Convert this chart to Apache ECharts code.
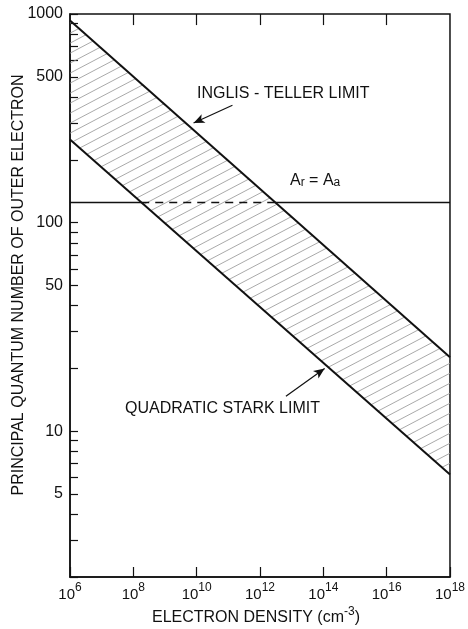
<!DOCTYPE html>
<html><head><meta charset="utf-8">
<script src="https://cdn.jsdelivr.net/npm/echarts@6/dist/echarts.min.js"></script>
<style>html,body{margin:0;padding:0;background:#fff}#c{width:468px;height:629px}</style>
</head><body><div id="c"></div>
<script>
// ---- data ----
const densities = [1e6, 1e18];            // electron density, cm^-3
const inglisTeller = [930, 22.6];         // principal quantum number, Inglis-Teller limit
const quadraticStark = [250, 6.2];        // principal quantum number, quadratic Stark limit
const levelArAa = 125;                    // A_r = A_a level
const xTickValues = [1e6, 1e8, 1e10, 1e12, 1e14, 1e16, 1e18];
const yLabelValues = [5, 10, 50, 100, 500, 1000];
const yTickValues = [2,3,4,5,6,7,8,9,10,20,30,40,50,60,70,80,90,100,200,300,400,500,600,700,800,900,1000];
// annotation arrows [density, n] : start -> tip
const inglisArrow = [[1.35e11, 365], [8e9, 300]];
const starkArrow = [[6.6e12, 14.7], [1.1e14, 20]];

const X_MIN = 1e6, X_MAX = 1e18, Y_MIN = 2, Y_MAX = 1000;
// log-axis extents are computed through pow(), so keep custom values just inside them
const inside = (v, lo, hi) => Math.min(Math.max(v, lo), hi * (1 - 1e-12));
const xTicks = xTickValues.map(v => inside(v, X_MIN, X_MAX));
const yTicks = yTickValues.map(v => inside(v, Y_MIN, Y_MAX));
const yLabels = yLabelValues.map(v => inside(v, Y_MIN, Y_MAX));
// top-frame ticks: short segments hanging from the top of the frame (about 0.05 decade long)
const topTickLines = xTickValues.slice(1, -1).map(x => [
  {coord: [x, Y_MAX * 0.99999]}, {coord: [x, Y_MAX * 0.885]}
]);

function crossX(xs, ys, level) {
  const lx0 = Math.log10(xs[0]), lx1 = Math.log10(xs[1]);
  const ly0 = Math.log10(ys[0]), ly1 = Math.log10(ys[1]);
  const t = (Math.log10(level) - ly0) / (ly1 - ly0);
  return Math.pow(10, lx0 + t * (lx1 - lx0));
}
const xCrossLow = crossX(densities, quadraticStark, levelArAa);
const xCrossHigh = crossX(densities, inglisTeller, levelArAa);

// hatch tile (diagonal light lines)
function makeHatch() {
  const W = 19, H = 10;
  const c = document.createElement('canvas');
  c.width = W; c.height = H;
  const g = c.getContext('2d');
  g.strokeStyle = '#999';
  g.lineWidth = 0.85;
  for (const off of [-H, 0, H]) {
    g.beginPath();
    g.moveTo(-W, 2 * H + off);
    g.lineTo(2 * W, -H + off);
    g.stroke();
  }
  return c;
}
const hatchFill = {image: makeHatch(), repeat: 'repeat'};

const FONT = 'Liberation Sans';
const chart = echarts.init(document.getElementById('c'), null, {renderer: 'canvas'});

const supFmt = v => '{b|10}{s|' + Math.round(Math.log10(v)) + '}';

chart.setOption({
  animation: false,
  backgroundColor: '#fff',
  textStyle: {fontFamily: FONT, color: '#111'},
  grid: {left: 70, right: 17, top: 14, bottom: 52, show: true, borderColor: '#111', borderWidth: 1.5},
  xAxis: [{
    type: 'log', logBase: 10, min: X_MIN, max: X_MAX, position: 'bottom',
    axisLine: {show: true, lineStyle: {color: '#111', width: 1.5}}, splitLine: {show: false},
    axisTick: {inside: true, length: 10, lineStyle: {color: '#111', width: 1.2}, customValues: xTicks},
    axisLabel: {customValues: xTicks, margin: 5, formatter: supFmt, showMaxLabel: true, showMinLabel: true, hideOverlap: false,
      rich: {b: {fontSize: 15, lineHeight: 20, verticalAlign: 'bottom', fontFamily: FONT, color: '#111'},
             s: {fontSize: 12, lineHeight: 20, verticalAlign: 'top', fontFamily: FONT, color: '#111'}}}
  }],
  yAxis: [{
    type: 'log', logBase: 10, min: Y_MIN, max: Y_MAX,
    axisLine: {show: true, lineStyle: {color: '#111', width: 1.5}}, splitLine: {show: false},
    axisTick: {inside: true, length: 8, lineStyle: {color: '#111', width: 1.2}, customValues: yTicks},
    axisLabel: {customValues: yLabels, margin: 7, fontSize: 16, fontFamily: FONT, color: '#111',
      formatter: v => String(Math.round(v)), showMaxLabel: true}
  }],
  series: [
    {name: 'band', type: 'custom', z: 1, silent: true, clip: true,
     data: [[densities[0], inglisTeller[0]]],
     renderItem: (params, api) => {
       const pts = [];
       for (let i = 0; i < densities.length; i++) pts.push(api.coord([densities[i], inglisTeller[i]]));
       for (let i = densities.length - 1; i >= 0; i--) pts.push(api.coord([densities[i], quadraticStark[i]]));
       return {type: 'polygon', shape: {points: pts}, style: {fill: hatchFill, stroke: null}};
     }},
    {name: 'Quadratic Stark limit', type: 'line', symbol: 'none', z: 4,
     data: densities.map((d, i) => [d, quadraticStark[i]]),
     lineStyle: {color: '#111', width: 2},
     markLine: {silent: true, symbol: ['none', 'arrow'], symbolSize: [7, 11],
       lineStyle: {color: '#111', width: 1.2, type: 'solid'}, label: {show: false},
       data: [[{coord: starkArrow[0]}, {coord: starkArrow[1]}]]}},
    {name: 'Inglis-Teller limit', type: 'line', symbol: 'none', z: 4,
     data: densities.map((d, i) => [d, inglisTeller[i]]),
     lineStyle: {color: '#111', width: 2},
     markLine: {silent: true, symbol: ['none', 'arrow'], symbolSize: [7, 11],
       lineStyle: {color: '#111', width: 1.2, type: 'solid'}, label: {show: false},
       data: [[{coord: inglisArrow[0]}, {coord: inglisArrow[1]}]]}},
    {name: 'Ar=Aa left', type: 'line', symbol: 'none', z: 3,
     data: [[densities[0], levelArAa], [xCrossLow, levelArAa]],
     lineStyle: {color: '#111', width: 1.5},
     markLine: {silent: true, symbol: ['none', 'none'], label: {show: false},
       lineStyle: {color: '#111', width: 1.2, type: 'solid'},
       data: topTickLines}},
    {name: 'Ar=Aa mid', type: 'line', symbol: 'none', z: 3,
     data: [[xCrossLow, levelArAa], [xCrossHigh, levelArAa]],
     lineStyle: {color: '#111', width: 1.5, type: [8, 6]}},
    {name: 'Ar=Aa right', type: 'line', symbol: 'none', z: 3,
     data: [[xCrossHigh, levelArAa], [densities[1], levelArAa]],
     lineStyle: {color: '#111', width: 1.5}}
  ],
  graphic: [
    {type: 'text', left: 197, top: 86, style: {text: 'INGLIS - TELLER LIMIT', font: '16px "' + FONT + '"', fill: '#111'}},
    {type: 'text', left: 125, top: 401, style: {text: 'QUADRATIC STARK LIMIT', font: '16px "' + FONT + '"', fill: '#111'}},
    {type: 'text', left: 290, top: 173, style: {text: '{a|A}{s|r}{a| = A}{s|a}', fill: '#111',
      rich: {a: {fontSize: 16, lineHeight: 18, verticalAlign: 'bottom', fontFamily: FONT, fill: '#111'},
             s: {fontSize: 12, lineHeight: 14, verticalAlign: 'bottom', fontFamily: FONT, fill: '#111'}}}},
    {type: 'text', x: 18.5, y: 285, rotation: Math.PI / 2,
     style: {text: 'PRINCIPAL QUANTUM NUMBER OF OUTER ELECTRON', font: '16px "' + FONT + '"', fill: '#111', align: 'center', verticalAlign: 'middle'}},
    {type: 'text', x: 256, y: 616, style: {text: '{t|ELECTRON DENSITY (cm}{s|-3}{t|)}', align: 'center', verticalAlign: 'middle', fill: '#111',
      rich: {t: {fontSize: 16, lineHeight: 20, verticalAlign: 'bottom', fontFamily: FONT, fill: '#111'},
             s: {fontSize: 12, lineHeight: 20, verticalAlign: 'top', fontFamily: FONT, fill: '#111'}}}}
  ]
});
</script></body></html>
